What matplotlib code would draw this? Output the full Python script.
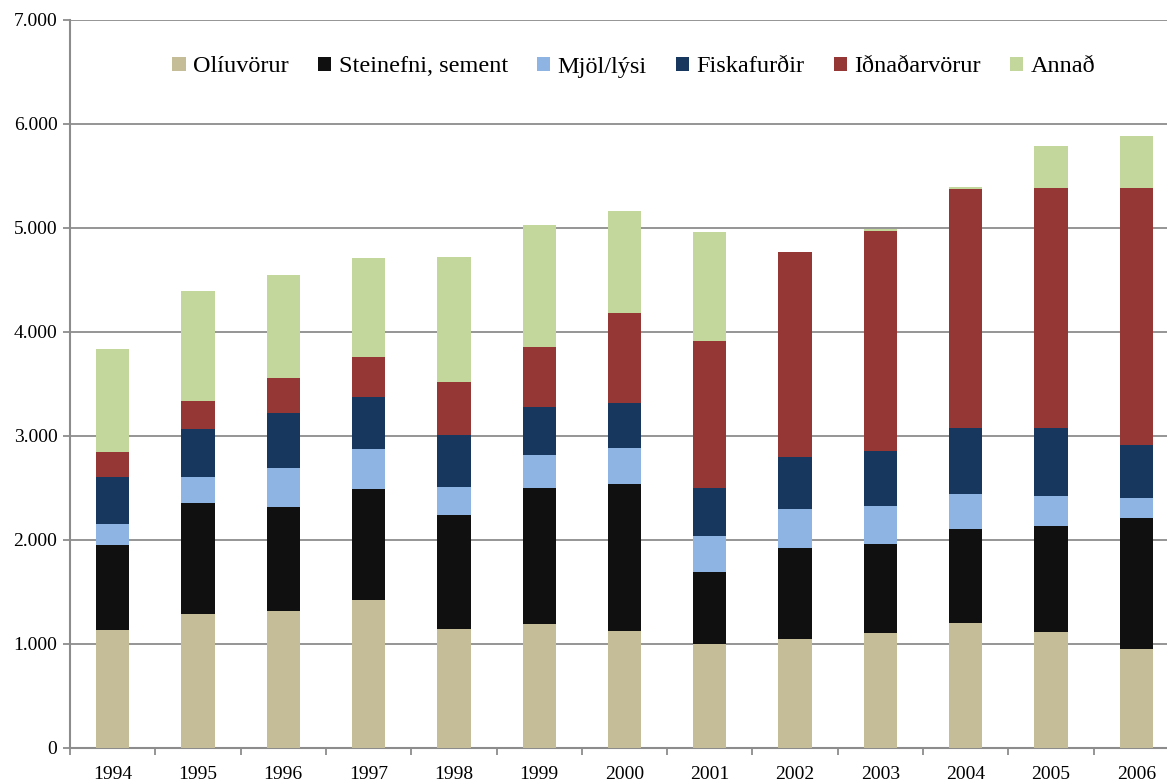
import numpy as np
import matplotlib.pyplot as plt
from matplotlib.ticker import FuncFormatter, FixedLocator

plt.rcParams['font.family'] = ['Liberation Serif', 'DejaVu Serif']

years = ['1994', '1995', '1996', '1997', '1998', '1999', '2000',
         '2001', '2002', '2003', '2004', '2005', '2006']

oliuvorur = [1135, 1292, 1314, 1423, 1141, 1192, 1122, 1002, 1052, 1105, 1201, 1120, 951]
steinefni = [817, 1064, 1007, 1067, 1095, 1304, 1421, 687, 875, 860, 904, 1014, 1260]
mjol = [205, 253, 371, 382, 276, 322, 337, 345, 370, 361, 336, 288, 196]
fiskafurdir = [449, 462, 532, 506, 497, 462, 435, 466, 505, 533, 639, 658, 510]
idnadarvorur = [243, 262, 337, 382, 508, 579, 866, 1417, 1970, 2115, 2297, 2307, 2470]
annad = [984, 1058, 984, 952, 1200, 1168, 978, 1040, 0, 14, 19, 399, 495]

series = [
    ('Olíuvörur', oliuvorur, '#C4BD97'),
    ('Steinefni, sement', steinefni, '#101010'),
    ('Mjöl/lýsi', mjol, '#8EB4E3'),
    ('Fiskafurðir', fiskafurdir, '#17375E'),
    ('Iðnaðarvörur', idnadarvorur, '#953735'),
    ('Annað', annad, '#C3D69B'),
]

W, H = 1167, 783
fig = plt.figure(figsize=(W / 100, H / 100), dpi=100)
ax = fig.add_axes([70 / W, (H - 748) / H, (1179 - 70) / W, (748 - 20) / H])

x = np.arange(len(years))
bottom = np.zeros(len(years))
for name, vals, col in series:
    ax.bar(x, vals, width=0.39, bottom=bottom, color=col, label=name,
           edgecolor='none', zorder=3)
    bottom += np.array(vals)

ax.set_xlim(-0.5, len(years) - 0.5)
ax.set_ylim(0, 7000)
ax.set_yticks(np.arange(0, 7001, 1000))
ax.yaxis.set_major_formatter(FuncFormatter(lambda v, p: f'{int(v):,}'.replace(',', '.')))
ax.yaxis.grid(True, color='#8c8c8c', linewidth=1.3, zorder=0)

ax.set_xticks(x)
ax.set_xticklabels(years)
ax.xaxis.set_minor_locator(FixedLocator(np.arange(-0.5, len(years), 1.0)))
ax.tick_params(axis='x', which='major', length=0, pad=13, labelsize=14)
ax.tick_params(axis='x', which='minor', length=5, width=1.3, color='#8c8c8c', direction='out')
ax.tick_params(axis='y', length=5, width=1.3, color='#8c8c8c', labelsize=14, pad=4)

for s in ['top', 'right']:
    ax.spines[s].set_visible(False)
for s in ['left', 'bottom']:
    ax.spines[s].set_color('#8c8c8c')
    ax.spines[s].set_linewidth(1.5)

leg = ax.legend(loc='center', bbox_to_anchor=(634 / W, 1 - 67 / H), bbox_transform=fig.transFigure,
                ncol=6, frameon=False, fontsize=17.5, handlelength=0.55, handleheight=0.55,
                handletextpad=0.3, columnspacing=1.2)

fig.savefig('out.png', dpi=100)
